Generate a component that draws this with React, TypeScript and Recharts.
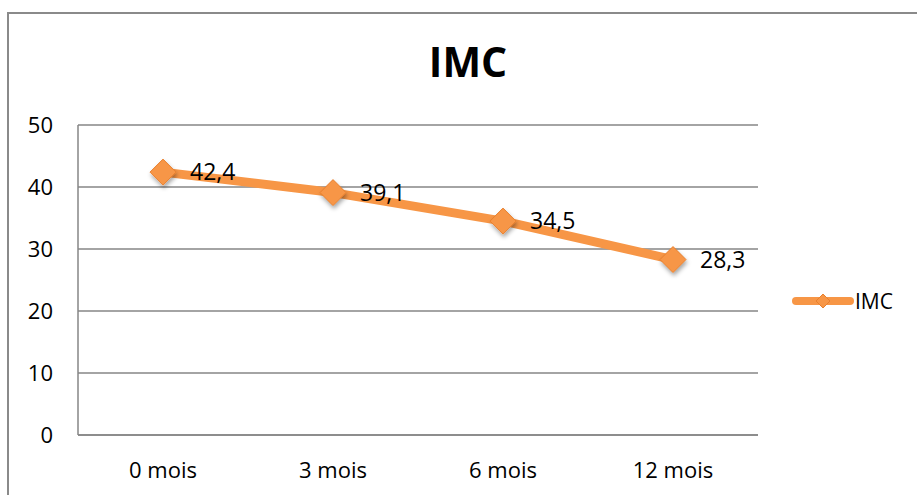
import { LineChart, Line, XAxis, YAxis, CartesianGrid, Legend, LabelList } from 'recharts';

const periods = ['0 mois', '3 mois', '6 mois', '12 mois'];
const imcValues = [42.4, 39.1, 34.5, 28.3];
const yTicks = [0, 10, 20, 30, 40, 50];

const ORANGE = '#F79646';
const ORANGE_EDGE = '#E8802E';
const GRID = '#868686';
const FONT = '"Open Sans", "Liberation Sans", sans-serif';

const data = periods.map((p, i) => ({ period: p, imc: imcValues[i] }));

const Diamond = (props: any) => {
  const { cx, cy, index } = props;
  if (cx == null || cy == null) return null;
  const r = 13;
  return (
    <polygon
      key={`d-${index}`}
      points={`${cx},${cy - r} ${cx + r},${cy} ${cx},${cy + r} ${cx - r},${cy}`}
      fill={ORANGE}
      stroke={ORANGE_EDGE}
      strokeWidth={1}
      filter="url(#markerShadow)"
    />
  );
};

const fmt = (v: any) => String(v).replace('.', ',');

const LegendContent = () => (
  <div style={{ display: 'flex', alignItems: 'center', fontFamily: FONT, fontSize: 21, color: '#000' }}>
    <svg width={64} height={20}>
      <line x1={5} y1={10} x2={59} y2={10} stroke={ORANGE} strokeWidth={8} strokeLinecap="round" />
      <polygon points="32,3 39,10 32,17 25,10" fill={ORANGE} stroke={ORANGE_EDGE} strokeWidth={1} />
    </svg>
    <span>IMC</span>
  </div>
);

export default function App() {
  return (
    <div style={{ position: 'absolute', left: 0, top: 0, width: 917, height: 495, overflow: 'hidden', background: '#fff' }}>
      <svg width={0} height={0} style={{ position: 'absolute' }}>
        <defs>
          <filter id="markerShadow" x="-50%" y="-50%" width="200%" height="200%">
            <feDropShadow dx={1} dy={3} stdDeviation={2} floodColor="#000" floodOpacity={0.35} />
          </filter>
        </defs>
      </svg>
      <div style={{ position: 'absolute', left: 7, top: 12, width: 940, height: 520, border: '2px solid #8a8a8a' }} />
      <div
        style={{
          position: 'absolute',
          left: 368,
          top: 35,
          width: 200,
          textAlign: 'center',
          fontFamily: FONT,
          fontWeight: 'bold',
          fontSize: 41,
          lineHeight: '52px',
          color: '#000',
        }}
      >
        IMC
      </div>
      <div style={{ position: 'absolute', left: 0, top: 0 }}>
        <LineChart width={917} height={495} data={data} margin={{ top: 125, right: 159, left: 0, bottom: 0 }}>
          <CartesianGrid vertical={false} stroke={GRID} strokeWidth={1.5} />
          <XAxis
            dataKey="period"
            height={60}
            padding={{ left: 85, right: 85 }}
            axisLine={{ stroke: GRID, strokeWidth: 1.5 }}
            tickLine={false}
            tickSize={0}
            tickMargin={27}
            tick={{ fill: '#000', fontSize: 22, fontFamily: FONT }}
          />
          <YAxis
            width={78}
            domain={[0, 50]}
            ticks={yTicks}
            axisLine={{ stroke: GRID, strokeWidth: 1.5 }}
            tickLine={false}
            tickSize={0}
            tickMargin={25}
            tick={{ fill: '#000', fontSize: 22, fontFamily: FONT }}
          />
          <Legend
            layout="horizontal"
            verticalAlign="middle"
            align="center"
            content={<LegendContent />}
            wrapperStyle={{ left: 791, top: 287, width: 'auto' }}
          />
          <Line
            type="linear"
            dataKey="imc"
            name="IMC"
            stroke={ORANGE}
            strokeWidth={9}
            strokeLinecap="round"
            strokeLinejoin="round"
            dot={Diamond}
            activeDot={false}
            isAnimationActive={false}
          >
            <LabelList
              dataKey="imc"
              position="right"
              offset={27}
              formatter={fmt}
              style={{ fill: '#000', fontSize: 23, fontFamily: FONT }}
            />
          </Line>
        </LineChart>
      </div>
    </div>
  );
}
